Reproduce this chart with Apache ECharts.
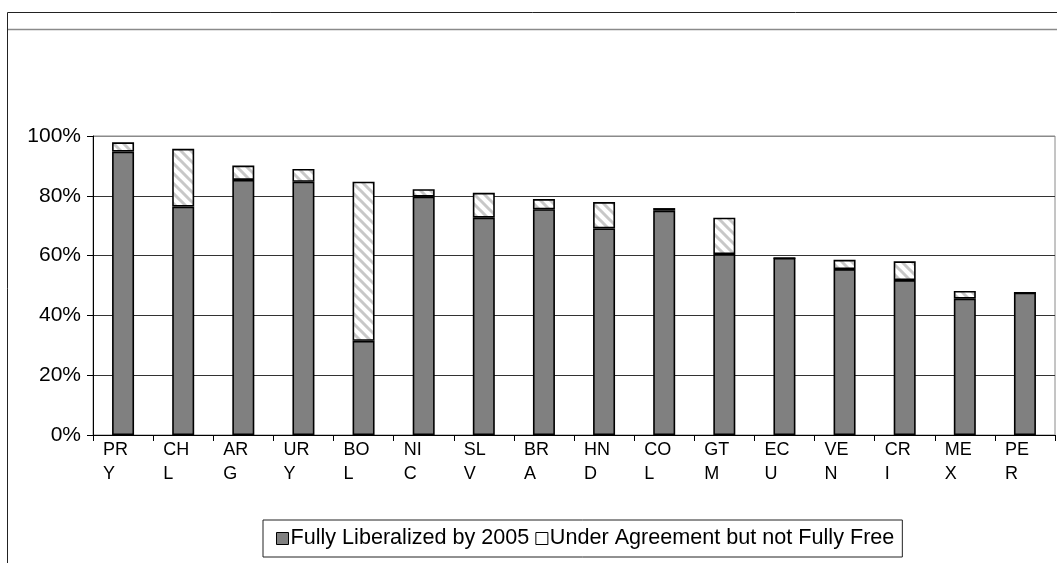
<!DOCTYPE html>
<html lang="en">
<head>
    <meta charset="UTF-8">
    <title>Liberalization by country</title>
    <script src="https://cdn.jsdelivr.net/npm/echarts@6/dist/echarts.min.js"></script>
    <style>
        body { margin: 0; background: #fff; }
        #main { width: 1057px; height: 563px; }
    </style>
</head>
<body>
<div id="main"></div>
<script type="text/javascript">
    var countries = ['PRY', 'CHL', 'ARG', 'URY', 'BOL', 'NIC', 'SLV', 'BRA', 'HND', 'COL', 'GTM', 'ECU', 'VEN', 'CRI', 'MEX', 'PER'];
    var fullyLiberalized = [94.8, 76.4, 85.3, 84.7, 31.5, 79.7, 72.7, 75.5, 69.1, 75.0, 60.5, 59.2, 55.5, 51.8, 45.6, 47.6];
    var underAgreement = [3.1, 19.3, 4.8, 4.3, 53.2, 2.5, 8.3, 3.4, 8.8, 0.9, 12.2, 0, 3.1, 6.3, 2.6, 0];
    var yTicks = [0, 20, 40, 60, 80, 100];

    // diagonal hatch for the second series
    var hatch = document.createElement('canvas');
    hatch.width = 10;
    hatch.height = 10;
    var ctx = hatch.getContext('2d');
    ctx.fillStyle = '#fff';
    ctx.fillRect(0, 0, 10, 10);
    ctx.strokeStyle = '#c8c8c8';
    ctx.lineWidth = 3;
    ctx.beginPath();
    ctx.moveTo(-2, -2); ctx.lineTo(12, 12);
    ctx.moveTo(-12, -2); ctx.lineTo(2, 12);
    ctx.moveTo(8, -2); ctx.lineTo(22, 12);
    ctx.stroke();

    var font = 'Liberation Sans, Arial, sans-serif';
    var myChart = echarts.init(document.getElementById('main'));

    myChart.setOption({
        animation: false,
        backgroundColor: '#fff',
        textStyle: { fontFamily: font, color: '#000' },
        grid: {
            left: 93, right: 2, top: 136, bottom: 128,
            show: true, borderColor: '#8a8a8a', borderWidth: 1
        },
        graphic: [
            { type: 'rect', shape: { x: 7.5, y: 12.5, width: 1060, height: 560 }, style: { fill: 'none', stroke: '#222', lineWidth: 1 }, silent: true },
            { type: 'line', shape: { x1: 8, y1: 29.5, x2: 1057, y2: 29.5 }, style: { stroke: '#8a8a8a', lineWidth: 1.5 }, silent: true }
        ],
        legend: {
            left: 263, top: 520,
            padding: [7, 8, 7, 13],
            borderColor: '#222', borderWidth: 1,
            icon: 'rect', itemWidth: 12, itemHeight: 12, itemGap: 6,
            textStyle: { fontFamily: font, fontSize: 21.6, lineHeight: 23, color: '#000', padding: [0, 0, 0, -3] },
            data: [
                { name: 'Fully Liberalized by 2005', itemStyle: { color: '#808080', borderColor: '#000', borderWidth: 1 } },
                { name: 'Under Agreement but not Fully Free', itemStyle: { color: '#fff', borderColor: '#000', borderWidth: 1 } }
            ]
        },
        xAxis: {
            type: 'category',
            data: countries,
            axisLine: { lineStyle: { color: '#000', width: 1 } },
            axisTick: { show: true, length: 6, lineStyle: { color: '#000' } },
            axisLabel: {
                interval: 0,
                margin: 3,
                formatter: function (v) {
                    return '{a|' + v.slice(0, 2) + '}\n{a|' + v.slice(2) + '}';
                },
                rich: {
                    a: { width: 40, align: 'left', fontSize: 18, lineHeight: 24, fontFamily: font, color: '#000' }
                }
            }
        },
        yAxis: {
            type: 'value',
            min: 0, max: 100, interval: 20,
            axisLine: { show: true, lineStyle: { color: '#000' } },
            axisTick: { show: true, length: 6, lineStyle: { color: '#000' } },
            axisLabel: {
                margin: 12,
                fontSize: 21,
                fontFamily: font,
                color: '#000',
                formatter: function (v) { return yTicks.indexOf(v) >= 0 ? v + '%' : ''; }
            },
            splitLine: {
                lineStyle: { color: ['#333', '#333', '#333', '#333', '#333', '#8a8a8a'], width: 1 }
            }
        },
        series: [
            {
                name: 'Fully Liberalized by 2005',
                type: 'bar',
                stack: 'total',
                barWidth: 22,
                data: fullyLiberalized,
                itemStyle: { color: '#808080', borderColor: '#000', borderWidth: 1.6 }
            },
            {
                name: 'Under Agreement but not Fully Free',
                type: 'bar',
                stack: 'total',
                barWidth: 22,
                data: underAgreement,
                itemStyle: { color: { image: hatch, repeat: 'repeat' }, borderColor: '#000', borderWidth: 1.6 }
            }
        ]
    });
</script>
</body>
</html>
